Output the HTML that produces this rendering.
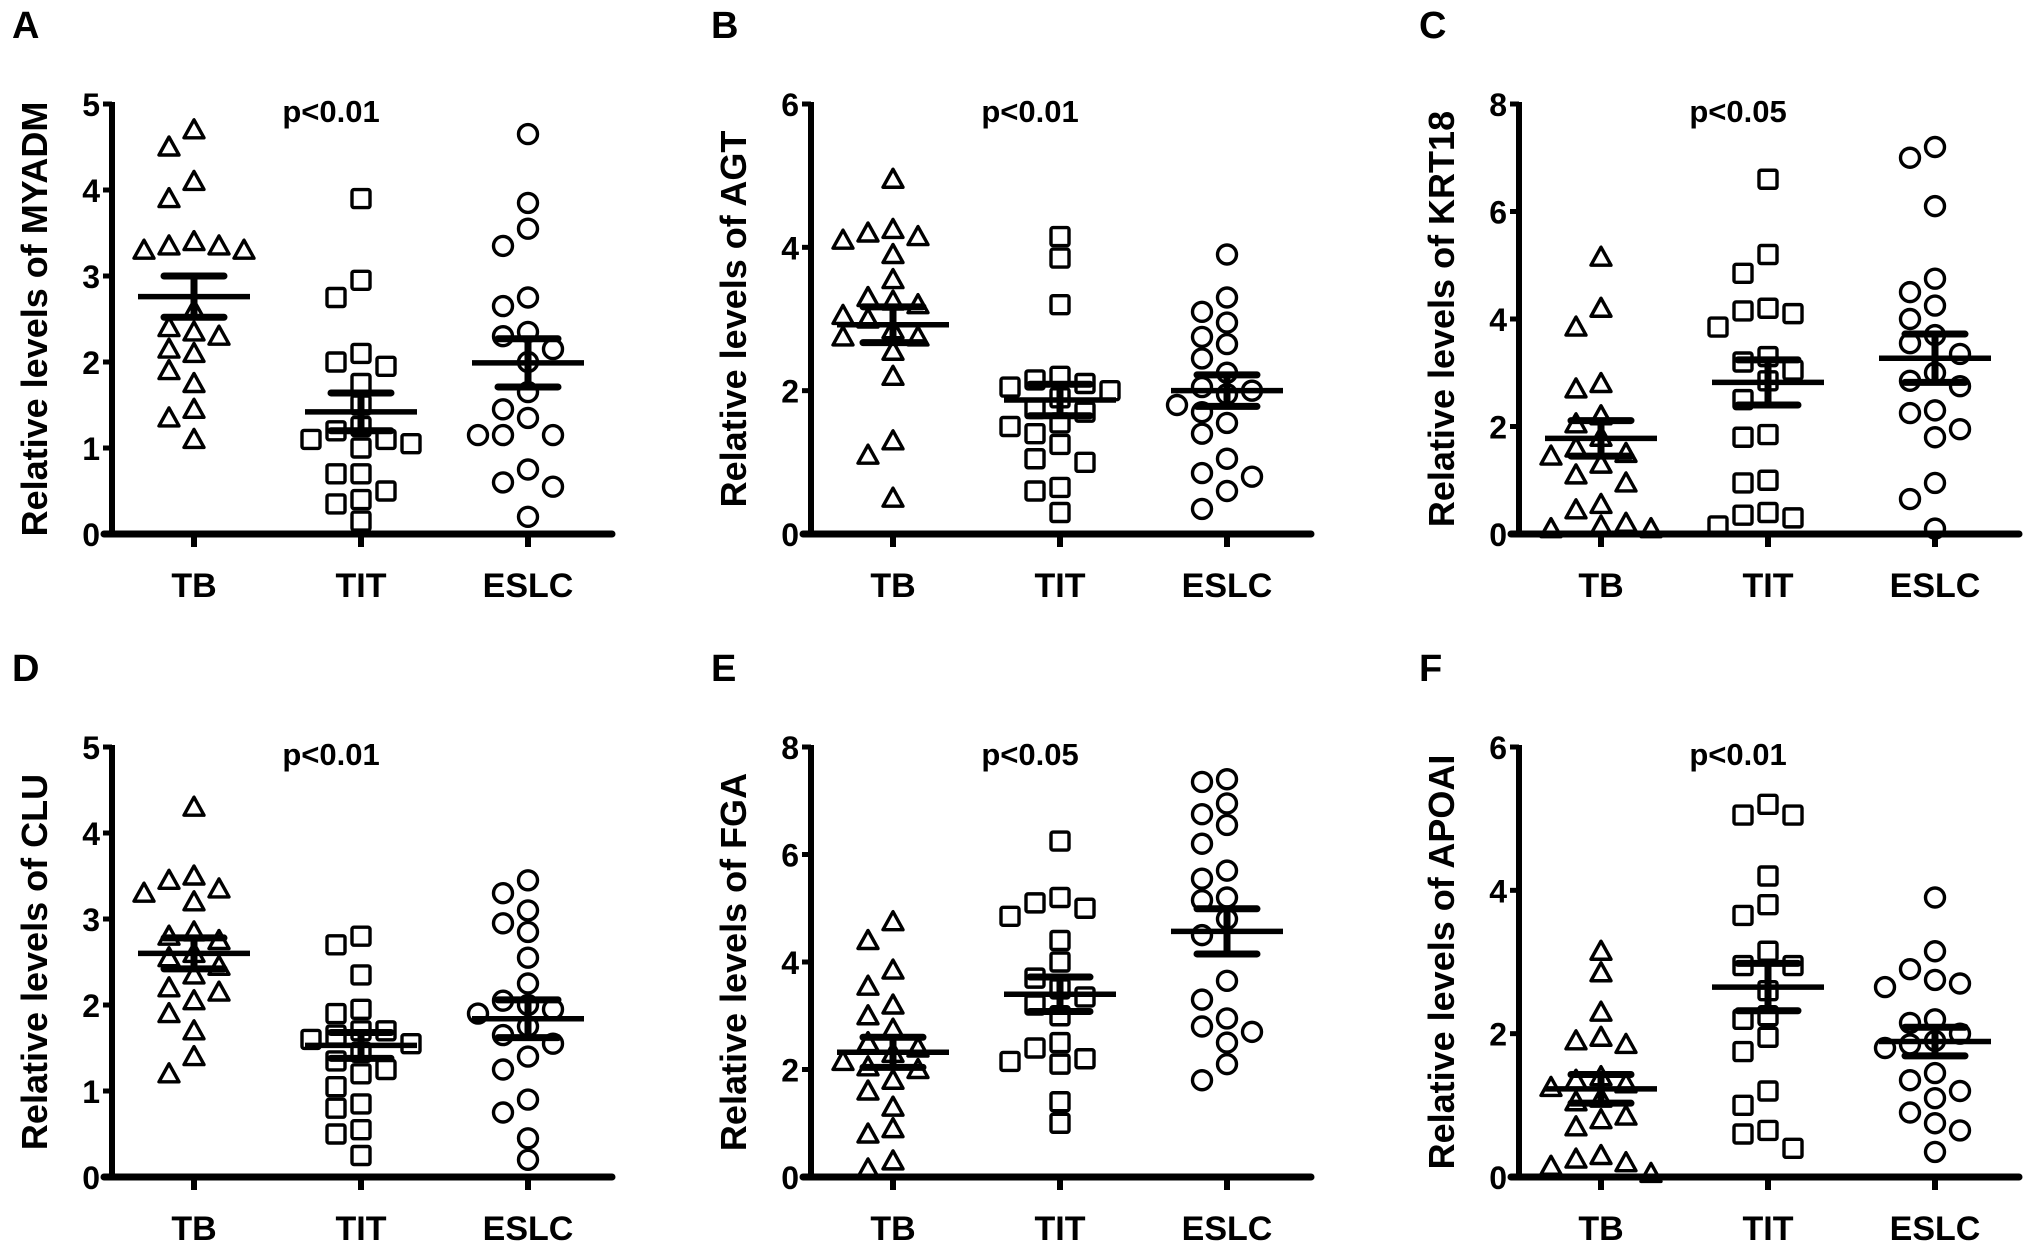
<!DOCTYPE html>
<html><head><meta charset="utf-8">
<style>
html,body{margin:0;padding:0;background:#fff;}
svg{display:block;font-family:"Liberation Sans",Arial,sans-serif;font-weight:bold;}
</style></head>
<body>
<svg id="fig" width="2031" height="1245" viewBox="0 0 2031 1245" xmlns="http://www.w3.org/2000/svg"></svg>
<script>
const categories = ["TB","TIT","ESLC"];
// Panel A MYADM
const aTB = [4.7,4.5,4.1,3.9,3.4,3.35,3.3,3.3,3.35,2.6,2.4,2.35,2.3,2.15,2.1,1.9,1.75,1.45,1.35,1.1];
const aTIT = [3.9,2.95,2.75,2.1,2.0,1.95,1.75,1.5,1.25,1.2,1.1,1.1,1.05,1.0,0.7,0.7,0.5,0.4,0.35,0.15];
const aESLC = [4.65,3.85,3.55,3.35,2.75,2.65,2.35,2.3,2.15,2.0,1.65,1.45,1.35,1.15,1.15,1.15,0.75,0.6,0.55,0.2];
const aMean = [2.76,1.42,1.99];
const aSem = [0.24,0.22,0.28];
// Panel B AGT
const bTB = [4.95,4.25,4.2,4.15,4.1,3.9,3.55,3.3,3.25,3.2,3.05,3.0,2.85,2.75,2.75,2.55,2.2,1.3,1.1,0.5];
const bTIT = [4.15,3.85,3.2,2.2,2.15,2.1,2.05,2.0,1.9,1.75,1.7,1.55,1.5,1.4,1.25,1.05,1.0,0.65,0.6,0.3];
const bESLC = [3.9,3.3,3.1,2.95,2.75,2.65,2.45,2.25,2.05,2.0,1.95,1.8,1.7,1.55,1.4,1.05,0.85,0.8,0.6,0.35];
const bMean = [2.92,1.87,2.0];
const bSem = [0.25,0.22,0.22];
// Panel C KRT18
const cTB = [5.15,4.2,3.85,2.8,2.7,2.2,2.05,1.8,1.6,1.5,1.45,1.3,1.1,0.95,0.55,0.45,0.2,0.15,0.1,0.1];
const cTIT = [6.6,5.2,4.85,4.2,4.15,4.1,3.85,3.3,3.2,3.05,2.85,2.5,1.85,1.8,1.0,0.95,0.4,0.35,0.3,0.15];
const cESLC = [7.2,7.0,6.1,4.75,4.5,4.25,4.0,3.7,3.55,3.35,3.0,2.85,2.75,2.3,2.25,1.95,1.8,0.95,0.65,0.1];
const cMean = [1.78,2.82,3.27];
const cSem = [0.33,0.42,0.45];
// Panel D CLU
const dTB = [4.3,3.5,3.45,3.35,3.3,3.2,2.85,2.8,2.75,2.6,2.55,2.45,2.35,2.2,2.15,2.05,1.9,1.7,1.4,1.2];
const dTIT = [2.8,2.7,2.35,1.95,1.9,1.7,1.7,1.65,1.6,1.55,1.45,1.35,1.25,1.2,1.05,0.85,0.8,0.55,0.5,0.25];
const dESLC = [3.45,3.3,3.1,2.95,2.85,2.55,2.25,2.05,2.0,1.95,1.9,1.75,1.65,1.55,1.4,1.25,0.9,0.75,0.45,0.2];
const dMean = [2.6,1.53,1.84];
const dSem = [0.18,0.15,0.22];
// Panel E FGA
const eTB = [4.75,4.4,3.85,3.55,3.2,3.0,2.75,2.5,2.4,2.3,2.15,2.05,2.0,1.8,1.6,1.3,0.9,0.8,0.3,0.15];
const eTIT = [6.25,5.2,5.1,5.0,4.85,4.4,4.0,3.7,3.5,3.35,3.2,3.0,2.5,2.4,2.2,2.15,2.1,1.4,1.0];
const eESLC = [7.4,7.35,6.95,6.75,6.55,6.2,5.7,5.55,5.2,5.15,4.8,4.5,3.65,3.3,2.95,2.8,2.7,2.5,2.1,1.8];
const eMean = [2.32,3.4,4.57];
const eSem = [0.28,0.32,0.42];
// Panel F APOAI
const fTB = [3.15,2.85,2.3,1.95,1.9,1.85,1.4,1.35,1.3,1.25,1.1,1.05,0.85,0.8,0.7,0.3,0.25,0.2,0.15,0.05];
const fTIT = [5.2,5.05,5.05,4.2,3.8,3.65,3.15,2.95,2.95,2.6,2.25,2.2,1.95,1.75,1.2,1.0,0.65,0.6,0.4];
const fESLC = [3.9,3.15,2.9,2.75,2.7,2.65,2.2,2.15,2.0,1.9,1.85,1.8,1.45,1.35,1.2,1.1,0.9,0.75,0.65,0.35];
const fMean = [1.23,2.65,1.89];
const fSem = [0.2,0.33,0.2];

const letters = ["A","B","C","D","E","F"];
const genes = ["MYADM","AGT","KRT18","CLU","FGA","APOAI"];
const pTexts = ["p<0.01","p<0.01","p<0.05","p<0.01","p<0.05","p<0.01"];
const yMaxes = [5,6,8,5,8,6];
const yStepsArr = [1,2,2,1,2,2];
const series = [[aTB,aTIT,aESLC],[bTB,bTIT,bESLC],[cTB,cTIT,cESLC],[dTB,dTIT,dESLC],[eTB,eTIT,eESLC],[fTB,fTIT,fESLC]];
const means = [aMean,bMean,cMean,dMean,eMean,fMean];
const sems = [aSem,bSem,cSem,dSem,eSem,fSem];

const NS="http://www.w3.org/2000/svg";
const svg=document.getElementById('fig');
function mk(tag,attrs,parent){const e=document.createElementNS(NS,tag);for(const k in attrs)e.setAttribute(k,attrs[k]);(parent||svg).appendChild(e);return e;}

const axisXs=[112,811,1519];
const baseYs=[534,1177];
const plotH=430;

for(let p=0;p<6;p++){
  const ax=axisXs[p%3], y0=baseYs[Math.floor(p/3)], yTop=y0-plotH;
  const g=mk('g',{});
  
  
  const yS=v=>y0-v/yMaxes[p]*plotH;
  const xS=i=>ax+82+i*167;
  const L=mk('text',{x:ax-100,y:y0-496,'font-size':38},g);L.textContent=letters[p];
  
  const tcx=ax-78, tcy=(y0+yTop)/2;
  const T=mk('text',{x:tcx,y:tcy+13,'font-size':36,'text-anchor':'middle',transform:`rotate(-90 ${tcx} ${tcy})`},g);
  T.textContent='Relative levels of '+genes[p];
  
  const P=mk('text',{x:xS(1)-30,y:yTop+18,'font-size':31,'text-anchor':'middle'},g);P.textContent=pTexts[p];
  
  const ya=mk('line',{x1:ax,y1:yTop-2,x2:ax,y2:y0,stroke:'#000','stroke-width':6},g);
  
  const xa=mk('line',{x1:ax-8,y1:y0,x2:ax+500,y2:y0,stroke:'#000','stroke-width':7,'stroke-linecap':'round'},g);
  
  for(let v=0;v<=yMaxes[p];v+=yStepsArr[p]){
    const y=yS(v);
    mk('line',{x1:ax-9,y1:y,x2:ax,y2:y,stroke:'#000','stroke-width':5},g);
    const t=mk('text',{x:ax-12,y:y+12,'font-size':32,'text-anchor':'end'},g);t.textContent=v;
    
  }
  categories.forEach((c,i)=>{
    const x=xS(i);
    mk('line',{x1:x,y1:y0,x2:x,y2:y0+13,stroke:'#000','stroke-width':6},g);
    const t=mk('text',{x:x,y:y0+63,'font-size':34,'text-anchor':'middle'},g);t.textContent=c;
    
  });
  categories.forEach((c,i)=>{
    const cx=xS(i);
    const vals=series[p][i].slice().sort((a,b)=>b-a);
    const placed=[];
    vals.forEach(v=>{
      const y=yS(v);
      const offs=[0,-1,1,-2,2,-3,3];
      let ox=cx;
      for(const o of offs){const x=cx+o*25;
        if(placed.every(q=>Math.hypot(q[0]-x,q[1]-y)>20)){ox=x;break;}}
      placed.push([ox,y]);
      let m;
      if(i===0){m=mk('polygon',{points:`${ox},${y-10} ${ox-10},${y+8} ${ox+10},${y+8}`,fill:'none',stroke:'#000','stroke-width':3.4,'stroke-linejoin':'round'},g);}
      else if(i===1){m=mk('rect',{x:ox-9,y:y-9,width:18,height:18,rx:2,fill:'none',stroke:'#000','stroke-width':3.4},g);}
      else {m=mk('circle',{cx:ox,cy:y,r:9.5,fill:'none',stroke:'#000','stroke-width':3.4},g);}
      
      
    });
    const mY=yS(means[p][i]), hi=yS(means[p][i]+sems[p][i]), lo=yS(means[p][i]-sems[p][i]);
    const ml=mk('line',{x1:cx-56,y1:mY,x2:cx+56,y2:mY,stroke:'#000','stroke-width':5.5},g);
    
    const eb=mk('path',{d:`M${cx},${hi}V${lo}M${cx-30},${hi}H${cx+30}M${cx-30},${lo}H${cx+30}`,stroke:'#000','stroke-width':7,fill:'none','stroke-linecap':'round'},g);
    
  });
}
</script>
</body></html>
